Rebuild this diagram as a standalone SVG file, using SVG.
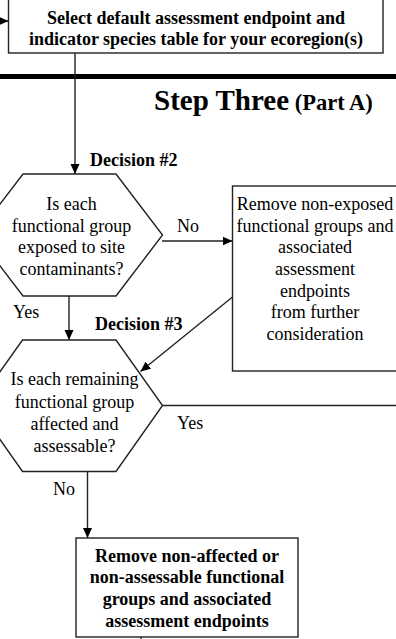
<svg xmlns="http://www.w3.org/2000/svg" width="396" height="639" viewBox="0 0 396 639">
<style>
.box{fill:#fff;stroke:#222;stroke-width:1.4}
.ln{fill:none;stroke:#222;stroke-width:1.4}
.t{font-family:"Liberation Serif","Times New Roman",serif;font-size:18px;fill:#000}
.b{font-weight:bold}
.c{text-anchor:middle}
</style>
<defs>
<marker id="ah" markerUnits="userSpaceOnUse" markerWidth="10" markerHeight="10" refX="10" refY="5" orient="auto">
<path d="M0,0.5 L10,5 L0,9.5 z" fill="#000"/>
</marker>
</defs>
<rect x="0" y="74" width="396" height="5" fill="#000"/>
<g id="connectors">
<line class="ln" x1="-5" y1="21" x2="8.5" y2="21" marker-end="url(#ah)"/>
<line class="ln" x1="75" y1="53" x2="75" y2="174" marker-end="url(#ah)"/>
<line class="ln" x1="162" y1="241" x2="232.5" y2="241" marker-end="url(#ah)"/>
<line class="ln" x1="69" y1="296" x2="69" y2="340" marker-end="url(#ah)"/>
<line class="ln" x1="232.5" y1="297" x2="140.5" y2="371.5" marker-end="url(#ah)"/>
<line class="ln" x1="162" y1="405.5" x2="400" y2="405.5"/>
<line class="ln" x1="87.5" y1="472" x2="87.5" y2="538" marker-end="url(#ah)"/>
<line class="ln" x1="141" y1="637" x2="141" y2="645"/>
<text class="t b" x="90" y="166">Decision #2</text>
<text class="t" x="177" y="232">No</text>
<text class="t" x="13" y="318">Yes</text>
<text class="t b" x="95" y="330">Decision #3</text>
<text class="t" x="177" y="429">Yes</text>
<text class="t" x="53" y="495">No</text>
</g>
<g id="select-box">
<rect class="box" x="8.5" y="-10" width="374.5" height="63"/>
<text class="t b c" x="196" y="24">Select default assessment endpoint and</text>
<text class="t b c" x="196" y="45">indicator species table for your ecoregion(s)</text>
</g>
<g id="step-title">
<text x="154" y="110" style="font-family:'Liberation Serif','Times New Roman',serif;font-weight:bold;fill:#000"><tspan font-size="29">Step Three</tspan><tspan font-size="22.5"> (Part A)</tspan></text>
</g>
<g id="decision2">
<polygon class="box" points="23,174 116,174 162.5,235 116,296 23,296 -23.5,235"/>
<text class="t c" x="71.5" y="210">Is each</text>
<text class="t c" x="71.5" y="232">functional group</text>
<text class="t c" x="71.5" y="253">exposed to site</text>
<text class="t c" x="71.5" y="275">contaminants?</text>
</g>
<g id="remove-nonexposed">
<rect class="box" x="232.5" y="186" width="170" height="185"/>
<text class="t c" x="315" y="210">Remove non-exposed</text>
<text class="t c" x="315" y="232">functional groups and</text>
<text class="t c" x="315" y="253">associated</text>
<text class="t c" x="315" y="275">assessment</text>
<text class="t c" x="315" y="297">endpoints</text>
<text class="t c" x="315" y="318">from further</text>
<text class="t c" x="315" y="340">consideration</text>
</g>
<g id="decision3">
<polygon class="box" points="22.5,340 116,340 162.5,405.5 116,471.5 22.5,471.5 -24,405.5"/>
<text class="t c" x="74.5" y="385">Is each remaining</text>
<text class="t c" x="74.5" y="408">functional group</text>
<text class="t c" x="74.5" y="430">affected and</text>
<text class="t c" x="74.5" y="452">assessable?</text>
</g>
<g id="remove-nonaffected">
<rect class="box" x="76" y="538" width="222" height="99"/>
<text class="t b c" x="187" y="562">Remove non-affected or</text>
<text class="t b c" x="187" y="583">non-assessable functional</text>
<text class="t b c" x="187" y="605">groups and associated</text>
<text class="t b c" x="187" y="627">assessment endpoints</text>
</g>
</svg>
